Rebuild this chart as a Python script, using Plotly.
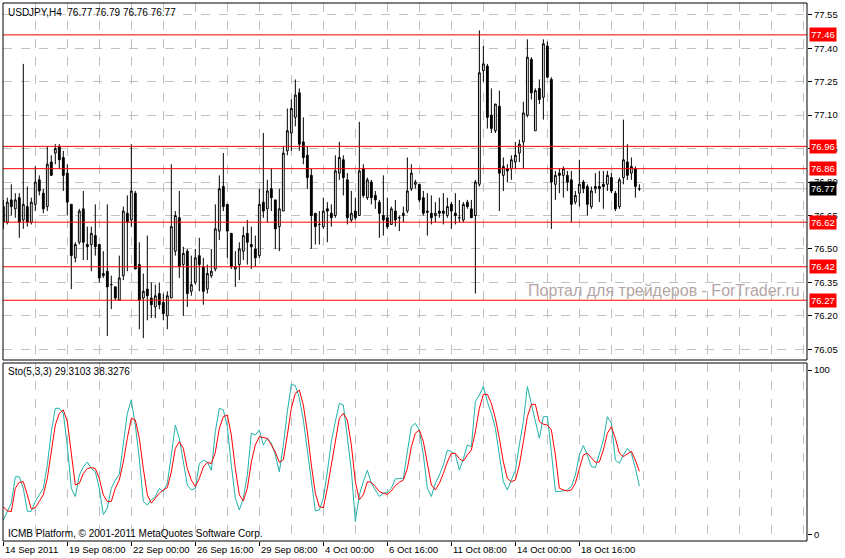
import plotly.graph_objects as go
from datetime import datetime, timedelta

# ---------------- data ----------------
opens = [76.69,76.62,76.72,76.68,76.73,76.63,76.69,76.62,76.70,76.81,
         76.75,76.69,76.89,76.93,76.96,76.91,76.84,76.70,76.46,76.53,
         76.68,76.52,76.52,76.56,76.52,76.38,76.40,76.34,76.33,76.27,
         76.38,76.66,76.63,76.75,76.43,76.28,76.32,76.28,76.24,76.30,
         76.26,76.20,76.28,76.49,76.64,76.43,76.49,76.31,76.35,76.47,
         76.42,76.32,76.38,76.41,76.58,76.78,76.70,76.57,76.41,76.43,
         76.49,76.57,76.52,76.50,76.47,76.71,76.68,76.77,76.72,76.60,
         76.67,76.94,77.02,77.09,77.20,76.98,76.92,76.83,76.66,76.61,
         76.60,76.68,76.66,76.65,76.84,76.90,76.81,76.63,76.67,76.65,
         76.86,76.73,76.80,76.74,76.71,76.65,76.64,76.61,76.67,76.64,
         76.65,76.67,76.77,76.79,76.79,76.73,76.67,76.66,76.65,76.67,
         76.67,76.65,76.70,76.66,76.64,76.63,76.71,76.68,76.65,76.79,
         77.30,77.32,77.10,77.03,77.14,76.83,76.86,76.86,76.89,76.93,
         76.98,77.10,77.35,77.03,77.22,77.18,77.41,77.26,76.79,76.84,
         76.83,76.83,76.81,76.71,76.75,76.80,76.78,76.69,76.77,76.77,
         76.79,76.79,76.82,76.75,76.69,76.82,76.89,76.84,76.86,76.77]
highs = [76.72,76.73,76.79,76.75,76.75,77.33,76.78,76.73,76.87,76.83,
         76.77,76.96,76.92,76.97,76.97,76.94,76.88,76.70,76.53,76.68,
         76.76,76.60,76.60,76.70,76.52,76.49,76.70,76.38,76.33,76.47,
         76.69,76.74,76.97,76.76,76.53,76.39,76.56,76.35,76.34,76.35,
         76.30,76.31,76.88,76.67,76.76,76.51,76.50,76.47,76.50,76.55,
         76.46,76.43,76.50,76.70,76.83,76.93,76.70,76.57,76.49,76.53,
         76.60,76.63,76.60,76.56,76.77,77.02,76.81,76.86,76.72,76.77,
         76.96,77.13,77.17,77.26,77.22,77.09,76.96,76.86,76.66,76.67,
         76.73,76.71,76.70,76.92,76.98,76.92,76.84,76.76,76.73,77.07,
         76.88,76.82,76.81,76.76,76.72,76.83,76.73,76.69,76.72,76.65,
         76.69,76.91,76.88,76.81,76.79,76.76,76.75,76.74,76.71,76.73,
         76.75,76.73,76.71,76.75,76.72,76.71,76.72,76.72,76.81,77.48,
         77.41,77.33,77.22,77.15,77.21,76.91,76.88,76.92,76.98,76.99,
         77.16,77.44,77.36,77.22,77.26,77.44,77.43,77.27,76.85,76.86,
         76.87,76.85,76.85,76.76,76.90,76.81,76.79,76.78,76.84,76.85,
         76.85,76.85,76.84,76.76,76.82,77.08,76.97,76.91,76.87,76.79]
lows = [76.59,76.61,76.65,76.64,76.55,76.59,76.60,76.61,76.67,76.74,
        76.66,76.67,76.83,76.88,76.86,76.76,76.65,76.32,76.44,76.52,
        76.45,76.45,76.40,76.47,76.35,76.37,76.11,76.23,76.27,76.27,
        76.36,76.40,76.60,76.41,76.14,76.10,76.18,76.19,76.19,76.23,
        76.18,76.14,76.28,76.47,76.37,76.20,76.24,76.29,76.34,76.31,
        76.25,76.30,76.37,76.40,76.54,76.67,76.46,76.41,76.33,76.36,
        76.45,76.43,76.41,76.42,76.46,76.64,76.62,76.67,76.50,76.49,
        76.67,76.92,76.94,77.05,76.94,76.88,76.77,76.50,76.52,76.52,
        76.59,76.53,76.60,76.64,76.81,76.74,76.61,76.62,76.63,76.65,
        76.73,76.72,76.70,76.68,76.55,76.56,76.59,76.61,76.60,76.58,
        76.62,76.66,76.76,76.77,76.71,76.65,76.56,76.61,76.62,76.64,
        76.61,76.64,76.59,76.61,76.62,76.62,76.68,76.64,76.30,76.78,
        77.25,77.04,77.02,77.02,76.67,76.76,76.80,76.81,76.86,76.89,
        76.86,77.09,77.17,77.03,77.15,77.08,77.27,76.59,76.72,76.75,
        76.73,76.76,76.62,76.70,76.69,76.75,76.65,76.68,76.75,76.71,
        76.68,76.76,76.75,76.67,76.68,76.79,76.81,76.81,76.73,76.76]
closes = [76.62,76.71,76.69,76.72,76.62,76.70,76.62,76.71,76.80,76.76,
          76.68,76.88,76.83,76.95,76.90,76.83,76.71,76.47,76.52,76.67,
          76.53,76.51,76.57,76.51,76.37,76.39,76.33,76.34,76.28,76.37,
          76.67,76.62,76.76,76.41,76.27,76.31,76.29,76.25,76.29,76.25,
          76.21,76.29,76.60,76.65,76.42,76.48,76.30,76.34,76.46,76.43,
          76.31,76.39,76.40,76.59,76.77,76.69,76.58,76.42,76.42,76.50,
          76.56,76.53,76.51,76.46,76.70,76.67,76.76,76.73,76.59,76.68,
          76.93,77.03,77.13,77.19,76.97,76.91,76.82,76.65,76.60,76.61,
          76.67,76.67,76.64,76.85,76.91,76.82,76.64,76.66,76.64,76.85,
          76.74,76.81,76.73,76.72,76.66,76.63,76.60,76.68,76.63,76.64,
          76.66,76.76,76.84,76.80,76.72,76.66,76.665,76.64,76.66,76.66,
          76.66,76.69,76.67,76.65,76.64,76.70,76.69,76.64,76.80,77.29,
          77.33,77.09,77.04,77.15,76.84,76.87,76.85,76.90,76.92,76.97,
          77.11,77.36,77.20,77.21,77.17,77.42,77.27,76.80,76.83,76.83,
          76.86,76.80,76.70,76.74,76.79,76.77,76.70,76.76,76.78,76.78,
          76.78,76.83,76.76,76.68,76.81,76.90,76.83,76.87,76.78,76.77]

sto_main = [8.7,13.8,19,35,35,28,14,14,20,24,
            28,42,62.5,76.7,76.7,73.6,54,28,23,36,
            41,44,40,38,28,12,16,28,33,36.5,
            54,73.6,81.7,66.5,46,20,17.8,21,23,28,
            26,31,48,66.5,58.4,44,30,27,28,43,
            45,44,39,62.5,76.7,75.7,65.5,42,22,14.8,
            22,36,61.5,60.4,63.5,54.4,58.4,55.4,48.3,38,
            54.4,74.6,91.3,90.5,82.8,69.6,50.3,30,14.2,14.8,
            22,38,56.4,68.6,79.7,78.7,60.4,39,7.7,24,
            32,39,31,27,23,25,25.6,28,33.7,34,
            34,50.3,65.5,67.5,63.5,48.3,28,23,31,36,
            42.2,51.3,50.3,48.7,39,46,54.4,53.3,80.7,84.8,
            89.9,80.7,73.6,64.5,48.3,32,27,33,39,54.4,
            68.6,89.9,78.7,69.6,58.4,71.6,71.6,50.3,26,26,
            26.4,27,29,36,48.3,54,48.3,41.2,40.6,48.3,
            57.4,71.6,67.5,45.2,43.2,48.3,52.3,49.3,40.2,29.3103]
sto_signal = [16.8,14.2,13.8,28,31.6,32,24,15.4,16.2,20,
              24,34,50,66.5,73.6,75.7,68.6,50,30,31,
              37,40,40.6,40,34,24,20,20,28,33,
              44,58.4,70.6,69.6,58.4,40,24,19,22,25,
              27,28.4,38,52.3,56.4,52.3,40,33,29,34,
              41,43.8,43,50,64.5,71.6,72.6,60.4,40,24,
              20.3,28,44,54.4,59.4,58.8,58.4,54.4,50,43.8,
              45.4,60.4,76.7,85.8,87.8,78.7,62.5,42.2,25,16.8,
              16.2,28,42.2,57.4,70.6,73.6,69.6,54.4,32,21,
              24,32,31.6,29,26,25,24.3,26.4,29.6,31.6,
              33,40,53.3,61.5,63.5,56.4,42.2,30,27,31,
              37,44,49.3,49.3,46,44.6,48.3,51.3,62.5,76.7,
              85.2,85.2,79.7,70.6,58.4,44,34,32,33,42.2,
              56.4,71.6,79.1,79.1,68.6,67,66.5,63.5,48.3,28,
              27,26.4,27,31,40,48.3,49.3,46.2,43.8,44,
              51.3,61.5,65.5,58.4,49.3,47.3,48.7,50.5,45.2,38.3276]

levels = [77.46, 76.96, 76.86, 76.62, 76.42, 76.27]
bid_price = 76.77
price_ticks = [77.55, 77.40, 77.25, 77.10, 76.95, 76.80, 76.65, 76.50, 76.35, 76.20, 76.05]
sto_ticks = [0, 100]
symbol_title = "USDJPY,H4  76.77 76.79 76.76 76.77"
sto_title = "Sto(5,3,3) 29.3103 38.3276"
copyright_text = "ICMB Platform, \u00a9 2001-2011 MetaQuotes Software Corp."
watermark = "Портал для трейдеров - ForTrader.ru"

# H4 bar times (weekends skipped)
times = []
t = datetime(2011, 9, 14, 16)
while len(times) < len(closes):
    if t.weekday() < 5:
        times.append(t)
    t += timedelta(hours=4)
idx = list(range(len(closes)))
label_step = 16
grid_step = 8
n_slots = 201

def fmt_label(i):
    tt = times[i]
    if i == 0:
        return f"{tt.day} {tt:%b %Y}"
    return f"{tt.day} {tt:%b %H:%M}"

label_idx = list(range(0, len(closes), label_step))
grid_idx = list(range(0, n_slots, grid_step))

# ---------------- geometry ----------------
W, H = 845, 558
ML, MR, MT, MB = 3, 38, 3, 17
plot_h = H - MT - MB
main_bottom_px = 360
sto_top_px = 363
main_dom = [(H - MB - main_bottom_px) / plot_h, 1]
sto_dom = [0, (H - MB - sto_top_px) / plot_h]
xr = [-0.075, 200.9]
main_yr = [76.002, 77.603]
sto_yr = [-4.08, 104.26]

FONT = "Liberation Sans"
GRID = "#C0C0C0"

fig = go.Figure()
fig.add_trace(go.Candlestick(
    x=idx, open=opens, high=highs, low=lows, close=closes,
    xaxis="x", yaxis="y",
    increasing=dict(line=dict(color="black", width=1), fillcolor="white"),
    decreasing=dict(line=dict(color="black", width=1), fillcolor="black"),
    whiskerwidth=0, showlegend=False, hoverinfo="skip"))
fig.add_trace(go.Scatter(x=idx, y=sto_main, mode="lines", xaxis="x2", yaxis="y2",
                         line=dict(color="#20B2AA", width=1), showlegend=False, hoverinfo="skip"))
fig.add_trace(go.Scatter(x=idx, y=sto_signal, mode="lines", xaxis="x2", yaxis="y2",
                         line=dict(color="#FF0000", width=1), showlegend=False, hoverinfo="skip"))

shapes = []
# bid line
shapes.append(dict(type="line", xref="x domain", yref="y", x0=0, x1=1, y0=bid_price, y1=bid_price,
                   line=dict(color=GRID, width=1), layer="below"))
for lv in levels:
    shapes.append(dict(type="line", xref="x domain", yref="y", x0=0, x1=1, y0=lv, y1=lv,
                       line=dict(color="#FF0000", width=1), layer="above"))
# pane frames
shapes.append(dict(type="rect", xref="paper", yref="paper", x0=0, x1=1, y0=main_dom[0], y1=main_dom[1],
                   line=dict(color="black", width=1), layer="above"))
shapes.append(dict(type="rect", xref="paper", yref="paper", x0=0, x1=1, y0=sto_dom[0], y1=sto_dom[1],
                   line=dict(color="black", width=1), layer="above"))

annotations = []
def px_x(px):
    return (px - ML) / (W - ML - MR)
def px_y(py):
    return (H - MB - py) / plot_h

annotations.append(dict(text=symbol_title, xref="paper", yref="paper", x=px_x(6), y=px_y(12),
                        xanchor="left", yanchor="middle", showarrow=False,
                        font=dict(family=FONT, size=10, color="black")))
annotations.append(dict(text=sto_title, xref="paper", yref="paper", x=px_x(6), y=px_y(372),
                        xanchor="left", yanchor="middle", showarrow=False,
                        font=dict(family=FONT, size=10, color="black")))
annotations.append(dict(text=copyright_text, xref="paper", yref="paper", x=px_x(6), y=px_y(533),
                        xanchor="left", yanchor="middle", showarrow=False,
                        font=dict(family=FONT, size=10, color="black")))
annotations.append(dict(text=watermark, xref="paper", yref="paper", x=px_x(526), y=px_y(290),
                        xanchor="left", yanchor="middle", showarrow=False,
                        font=dict(family=FONT, size=16, color="#B4A6A6")))
for i in label_idx:
    annotations.append(dict(text=fmt_label(i), xref="x2", yref="paper", x=i, y=px_y(549),
                            xanchor="left", yanchor="middle", showarrow=False, xshift=0,
                            font=dict(family=FONT, size=9.5, color="black")))
for lv in levels:
    annotations.append(dict(text=f"{lv:.2f}", xref="paper", yref="y", x=px_x(809), y=lv,
                            xanchor="left", yanchor="middle", showarrow=False,
                            bgcolor="#FF0000", borderpad=1,
                            font=dict(family=FONT, size=9.5, color="white")))
annotations.append(dict(text=f"{bid_price:.2f}", xref="paper", yref="y", x=px_x(809), y=bid_price,
                        xanchor="left", yanchor="middle", showarrow=False,
                        bgcolor="black", borderpad=1,
                        font=dict(family=FONT, size=9.5, color="white")))

fig.update_layout(
    width=W, height=H, margin=dict(l=ML, r=MR, t=MT, b=MB),
    paper_bgcolor="white", plot_bgcolor="white",
    boxgap=0.35,
    shapes=shapes, annotations=annotations,
    xaxis=dict(domain=[0, 1], anchor="y", range=xr, rangeslider=dict(visible=False),
               tickvals=grid_idx, showticklabels=False, ticks="", showgrid=True,
               gridcolor=GRID, griddash="dash", gridwidth=1, zeroline=False, showline=False,
               fixedrange=True),
    yaxis=dict(domain=main_dom, anchor="x", side="right", range=main_yr,
               tickvals=price_ticks, ticktext=[f"{v:.2f}" for v in price_ticks],
               ticks="outside", ticklen=4, tickcolor="black", tickwidth=1,
               tickfont=dict(family=FONT, size=9.5, color="black"),
               showgrid=True, gridcolor=GRID, griddash="dash", zeroline=False, showline=False),
    xaxis2=dict(domain=[0, 1], anchor="y2", range=xr,
                tickvals=label_idx, showticklabels=False, ticks="outside", ticklen=4,
                tickcolor="black", showgrid=True, gridcolor=GRID, griddash="dash",
                minor=dict(tickvals=grid_idx, showgrid=True, gridcolor=GRID, griddash="dash", ticks=""),
                zeroline=False, showline=False),
    yaxis2=dict(domain=sto_dom, anchor="x2", side="right", range=sto_yr,
                tickvals=sto_ticks, ticks="outside", ticklen=4, tickcolor="black",
                tickfont=dict(family=FONT, size=9.5, color="black"),
                showgrid=False, zeroline=False, showline=False),
)

fig.write_html("out.html", config={"displayModeBar": False},
               post_script="document.body.style.margin='0';document.body.style.overflow='hidden';")
